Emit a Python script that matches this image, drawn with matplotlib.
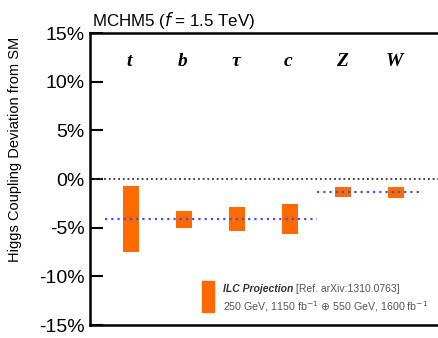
import matplotlib
matplotlib.use("Agg")
import matplotlib.pyplot as plt
from matplotlib.patches import Rectangle
import numpy as np

# coupling deviations from SM (%), ILC projection ranges
categories = ["t", "b", "τ", "c", "Z", "W"]
range_lo = [-7.5, -5.0, -5.3, -5.65, -1.9, -2.0]
range_hi = [-0.75, -3.25, -2.9, -2.55, -0.8, -0.8]
# MCHM5 predictions: fermions and gauge bosons
pred_values = [-4.1, -1.35]
pred_groups = [(0, 3), (4, 5)]
yticks = [15, 10, 5, 0, -5, -10, -15]

ORANGE = "#ff6a00"
BLUE = "#4a4cf0"
GREY = "#555555"

plt.rcParams.update({"font.family": ["Liberation Sans", "DejaVu Sans"]})

fig = plt.figure(figsize=(4.38, 3.38), dpi=100)
ax = fig.add_axes([90 / 438, 13 / 338, 348 / 438, 292 / 338])

x = np.arange(len(categories))
lo = np.array(range_lo)
hi = np.array(range_hi)
ax.bar(x, hi - lo, bottom=lo, width=0.3, color=ORANGE, zorder=3)

ax.axhline(0, color="#333333", lw=1.3, ls=(0, (1, 1.6)), zorder=2)
for val, (a, b) in zip(pred_values, pred_groups):
    ax.plot([a - 0.5, b + 0.5], [val, val], color=BLUE, lw=1.6,
            ls=(0, (1, 1.8)), zorder=4)

for xi, lab in zip(x, categories):
    ax.text(xi - 0.03, 12.1, lab, ha="center", va="center", fontsize=14,
            family=["Liberation Serif", "DejaVu Serif"], style="italic",
            fontweight="bold")

ax.set_xlim(-0.774, 5.79)
ax.set_ylim(-15, 15)
ax.set_xticks([])
ax.set_yticks(yticks)
ax.set_yticklabels([f"{v}%" for v in yticks], fontsize=14)
ax.tick_params(axis="y", direction="in", length=9, width=1.5, pad=4)
for side in ["left", "bottom", "top"]:
    ax.spines[side].set_linewidth(1.8)
ax.spines["right"].set_visible(False)

ax.set_title("MCHM5 ($f$ = 1.5 TeV)", loc="left", fontsize=12.2, pad=5, x=0.005)
fig.text(15 / 438, 1 - 149 / 338, "Higgs Coupling Deviation from SM",
         rotation=90, ha="center", va="center", fontsize=10.5)

# legend box
ax.add_patch(Rectangle((0.323, 0.045), 0.032, 0.105, transform=ax.transAxes,
                       color=ORANGE, zorder=3))
t1 = ax.text(0.382, 0.125, "ILC Projection", transform=ax.transAxes,
             fontsize=7.5, style="italic", fontweight="bold", color="#333333",
             va="center", ha="left")
ax.annotate(" [Ref. arXiv:1310.0763]", xy=(1, 0.5), xycoords=t1,
            fontsize=7.5, color=GREY, va="center", ha="left")
ax.text(0.382, 0.063, r"250 GeV, 1150 fb$^{-1}$ $\oplus$ 550 GeV, 1600 fb$^{-1}$",
        transform=ax.transAxes, fontsize=7.7, color=GREY, va="center", ha="left")

fig.savefig("out.png", dpi=100)
